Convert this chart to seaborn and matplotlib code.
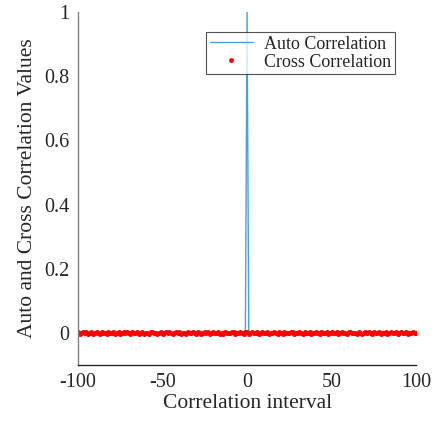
import numpy as np
import pandas as pd
import seaborn as sns
import matplotlib
matplotlib.use("Agg")
import matplotlib.pyplot as plt

# Correlation lags and values
lags = list(range(-100, 101))
auto_corr = [0.0] * 100 + [1.0] + [0.0] * 100
cross_corr = [
    0.003, -0.002, 0.001, 0.004, -0.001, 0.002, -0.003, 0.000, 0.002, -0.002,
    0.001, 0.003, -0.001, -0.004, 0.002, 0.000, 0.001, -0.002, 0.003, 0.001,
    -0.001, 0.002, -0.003, 0.001, 0.004, -0.002, 0.000, 0.002, -0.001, 0.003,
    0.001, -0.002, 0.002, -0.001, 0.000, 0.003, -0.003, 0.001, 0.002, -0.002,
    0.000, 0.001, -0.004, 0.002, 0.003, -0.001, 0.001, -0.002, 0.000, 0.002,
    -0.003, 0.001, 0.002, -0.001, 0.003, 0.000, -0.002, 0.001, 0.004, -0.001,
    0.002, -0.002, 0.000, 0.001, -0.003, 0.002, 0.001, -0.001, 0.003, 0.000,
    -0.002, 0.002, 0.001, -0.003, 0.000, 0.004, -0.001, 0.002, -0.002, 0.001,
    0.003, -0.001, 0.000, 0.002, -0.002, 0.001, -0.003, 0.002, 0.000, 0.001,
    -0.001, 0.003, 0.002, -0.002, 0.000, -0.001, 0.002, 0.001, -0.003, 0.002,
    0.004,
    -0.002, 0.001, 0.003, -0.001, 0.000, 0.002, -0.003, 0.001, 0.002, -0.001,
    0.000, 0.003, -0.002, 0.001, -0.001, 0.004, 0.000, -0.002, 0.002, 0.001,
    -0.003, 0.002, 0.000, 0.001, -0.001, 0.003, 0.002, -0.002, 0.000, 0.001,
    0.002, -0.001, -0.003, 0.002, 0.001, 0.000, 0.003, -0.002, 0.001, -0.001,
    0.002, 0.000, -0.002, 0.003, 0.001, -0.001, 0.002, -0.003, 0.000, 0.002,
    -0.001, 0.001, 0.004, -0.002, 0.000, 0.002, -0.001, 0.001, -0.003, 0.002,
    0.003, -0.001, 0.000, 0.001, -0.002, 0.002, 0.001, -0.003, 0.000, 0.002,
    -0.001, 0.003, 0.001, -0.002, 0.002, 0.000, -0.001, 0.004, -0.002, 0.001,
    0.000, 0.002, -0.003, 0.001, 0.003, -0.001, 0.000, 0.002, -0.002, 0.001,
    0.002, -0.001, 0.000, 0.003, -0.002, 0.001, -0.001, 0.002, 0.000, 0.001,
]
x_ticks = [-100, -50, 0, 50, 100]
x_tick_labels = ["-100", "-50", "0", "50", "100"]
y_ticks = [0, 0.2, 0.4, 0.6, 0.8, 1]
y_tick_labels = ["0", "0.2", "0.4", "0.6", "0.8", "1"]

df = pd.DataFrame({"lag": lags, "auto": auto_corr, "cross": cross_corr})

sns.set_style("white")
plt.rcParams["font.family"] = ["Liberation Serif", "DejaVu Serif"]
plt.rcParams["font.size"] = 13

fig = plt.figure(figsize=(4.48, 4.26), dpi=100)
ax = fig.add_axes([0.174, 0.143, 0.755, 0.829])

sns.lineplot(data=df, x="lag", y="auto", ax=ax, color="#4aa0dc", linewidth=1.0,
             label="Auto Correlation")
sns.lineplot(data=df, x="lag", y="cross", ax=ax, color="#ff0000", linestyle="",
             marker="o", markersize=3.6, markeredgewidth=0, label="Cross Correlation")

ax.set_xlim(-100, 100)
ax.set_ylim(-0.1, 1)
ax.set_xticks(x_ticks)
ax.set_xticklabels(x_tick_labels, rotation=0)
ax.set_yticks(y_ticks)
ax.set_yticklabels(y_tick_labels, rotation=0)
ax.set_xlabel("Correlation interval", fontsize=15.5, labelpad=1)
ax.set_ylabel("Auto and Cross Correlation Values", fontsize=15.5, labelpad=5)

for side in ["top", "right"]:
    ax.spines[side].set_visible(False)
ax.spines["left"].set_color("#808080")
ax.spines["bottom"].set_color("#262626")
for side in ["left", "bottom"]:
    ax.spines[side].set_linewidth(1.0)
ax.tick_params(axis="x", direction="in", length=4, width=0.8, labelsize=14.5,
               colors="#262626", pad=6)
ax.tick_params(axis="y", direction="in", length=4, width=0.8, labelsize=14.5,
               color="#808080", labelcolor="#262626", pad=6, labelrotation=0)

leg = ax.legend(loc="upper right", bbox_to_anchor=(0.936, 0.943), fontsize=13,
                frameon=True, fancybox=False, handlelength=2.4,
                borderpad=0.2, labelspacing=0.05, handletextpad=0.6,
                borderaxespad=0)
leg.get_frame().set_edgecolor("#262626")
leg.get_frame().set_linewidth(0.8)
leg.legend_handles[1].set_markersize(3.5)

fig.savefig("out.png", dpi=100)
